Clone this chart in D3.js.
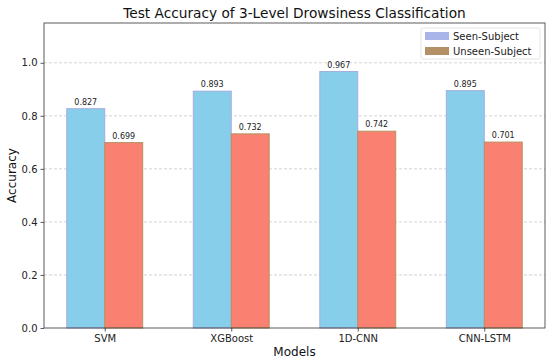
<!DOCTYPE html>
<html>
<head>
<meta charset="utf-8">
<script src="https://cdn.jsdelivr.net/npm/d3@7"></script>
<style>
  body { margin: 0; background: #fff; }
  svg { font-family: "DejaVu Sans", sans-serif; }
</style>
</head>
<body>
<div id="chart"></div>
<script>
const models = ['SVM', 'XGBoost', '1D-CNN', 'CNN-LSTM'];
const seenAcc = [0.827, 0.893, 0.967, 0.895];
const unseenAcc = [0.699, 0.732, 0.742, 0.701];
const seriesNames = ['Seen-Subject', 'Unseen-Subject'];
const yTicks = [0.0, 0.2, 0.4, 0.6, 0.8, 1.0];

const w = 550;
const h = 360;
const margin = { top: 23, right: 5, bottom: 32, left: 44 };
const barW = 0.3;

const svg = d3.select('#chart')
  .append('svg')
  .attr('width', w)
  .attr('height', h);

// scales
const x = d3.scaleLinear()
  .domain([-0.48, models.length - 1 + 0.48])
  .range([margin.left, w - margin.right]);

const y = d3.scaleLinear()
  .domain([0, 1.15])
  .range([h - margin.bottom, margin.top]);

// grid
svg.append('g')
  .selectAll('line')
  .data(yTicks.filter(d => d > 0))
  .enter()
  .append('line')
  .attr('x1', margin.left)
  .attr('x2', w - margin.right)
  .attr('y1', d => y(d))
  .attr('y2', d => y(d))
  .attr('stroke', '#c8c8c8')
  .attr('stroke-width', 0.8)
  .attr('stroke-dasharray', '3,2');

// bars
const series = [
  { name: seriesNames[0], values: seenAcc, fill: '#87ceeb', edge: '#a4addf', offset: -barW / 2 },
  { name: seriesNames[1], values: unseenAcc, fill: '#fa8072', edge: '#b3925f', offset: barW / 2 }
];

series.forEach(s => {
  const g = svg.append('g');
  g.selectAll('rect')
    .data(s.values)
    .enter()
    .append('rect')
    .attr('x', (d, i) => x(i + s.offset - barW / 2))
    .attr('y', d => y(d))
    .attr('width', x(barW) - x(0))
    .attr('height', d => y(0) - y(d))
    .attr('fill', s.fill)
    .attr('stroke', s.edge)
    .attr('stroke-width', 1);

  g.selectAll('text')
    .data(s.values)
    .enter()
    .append('text')
    .attr('x', (d, i) => x(i + s.offset))
    .attr('y', d => y(d) - 4)
    .attr('text-anchor', 'middle')
    .attr('font-size', '8px')
    .attr('fill', '#222')
    .text(d => d.toFixed(3));
});

// axes
const xAxis = d3.axisBottom(x)
  .tickValues(models.map((d, i) => i))
  .tickFormat(i => models[i])
  .tickSize(3.5)
  .tickPadding(3);

const yAxis = d3.axisLeft(y)
  .tickValues(yTicks)
  .tickFormat(d3.format('.1f'))
  .tickSize(3.5)
  .tickPadding(3);

const gx = svg.append('g')
  .attr('transform', `translate(0, ${h - margin.bottom})`)
  .call(xAxis);

const gy = svg.append('g')
  .attr('transform', `translate(${margin.left}, 0)`)
  .call(yAxis);

[gx, gy].forEach(g => {
  g.select('.domain').remove();
  g.selectAll('text').attr('font-size', '10px').attr('fill', '#222').attr('font-family', '"DejaVu Sans", sans-serif');
  g.selectAll('line').attr('stroke', '#333').attr('stroke-width', 0.8);
});

// frame
svg.append('rect')
  .attr('x', margin.left)
  .attr('y', margin.top)
  .attr('width', w - margin.left - margin.right)
  .attr('height', h - margin.top - margin.bottom)
  .attr('fill', 'none')
  .attr('stroke', '#333')
  .attr('stroke-width', 0.8);

// labels
svg.append('text')
  .attr('x', (margin.left + w - margin.right) / 2)
  .attr('y', 18)
  .attr('text-anchor', 'middle')
  .attr('font-size', '13.7px')
  .attr('fill', '#111')
  .text('Test Accuracy of 3-Level Drowsiness Classification');

svg.append('text')
  .attr('x', (margin.left + w - margin.right) / 2)
  .attr('y', 356)
  .attr('text-anchor', 'middle')
  .attr('font-size', '12px')
  .attr('fill', '#111')
  .text('Models');

svg.append('text')
  .attr('transform', `translate(16, ${(margin.top + h - margin.bottom) / 2}) rotate(-90)`)
  .attr('text-anchor', 'middle')
  .attr('font-size', '12px')
  .attr('fill', '#111')
  .text('Accuracy');

// legend
const legend = svg.append('g')
  .attr('transform', `translate(${w - margin.right - 124}, 28)`);

legend.append('rect')
  .attr('width', 119)
  .attr('height', 31)
  .attr('rx', 2)
  .attr('fill', '#fff')
  .attr('fill-opacity', 0.8)
  .attr('stroke', '#ddd')
  .attr('stroke-width', 0.8);

const legendColors = ['#a9b5e8', '#b58f66'];
seriesNames.forEach((name, i) => {
  legend.append('rect')
    .attr('x', 4)
    .attr('y', 4 + i * 15)
    .attr('width', 24)
    .attr('height', 8)
    .attr('fill', legendColors[i]);
  legend.append('text')
    .attr('x', 32)
    .attr('y', 11.5 + i * 15)
    .attr('font-size', '10px')
    .attr('fill', '#222')
    .text(name);
});
</script>
</body>
</html>
